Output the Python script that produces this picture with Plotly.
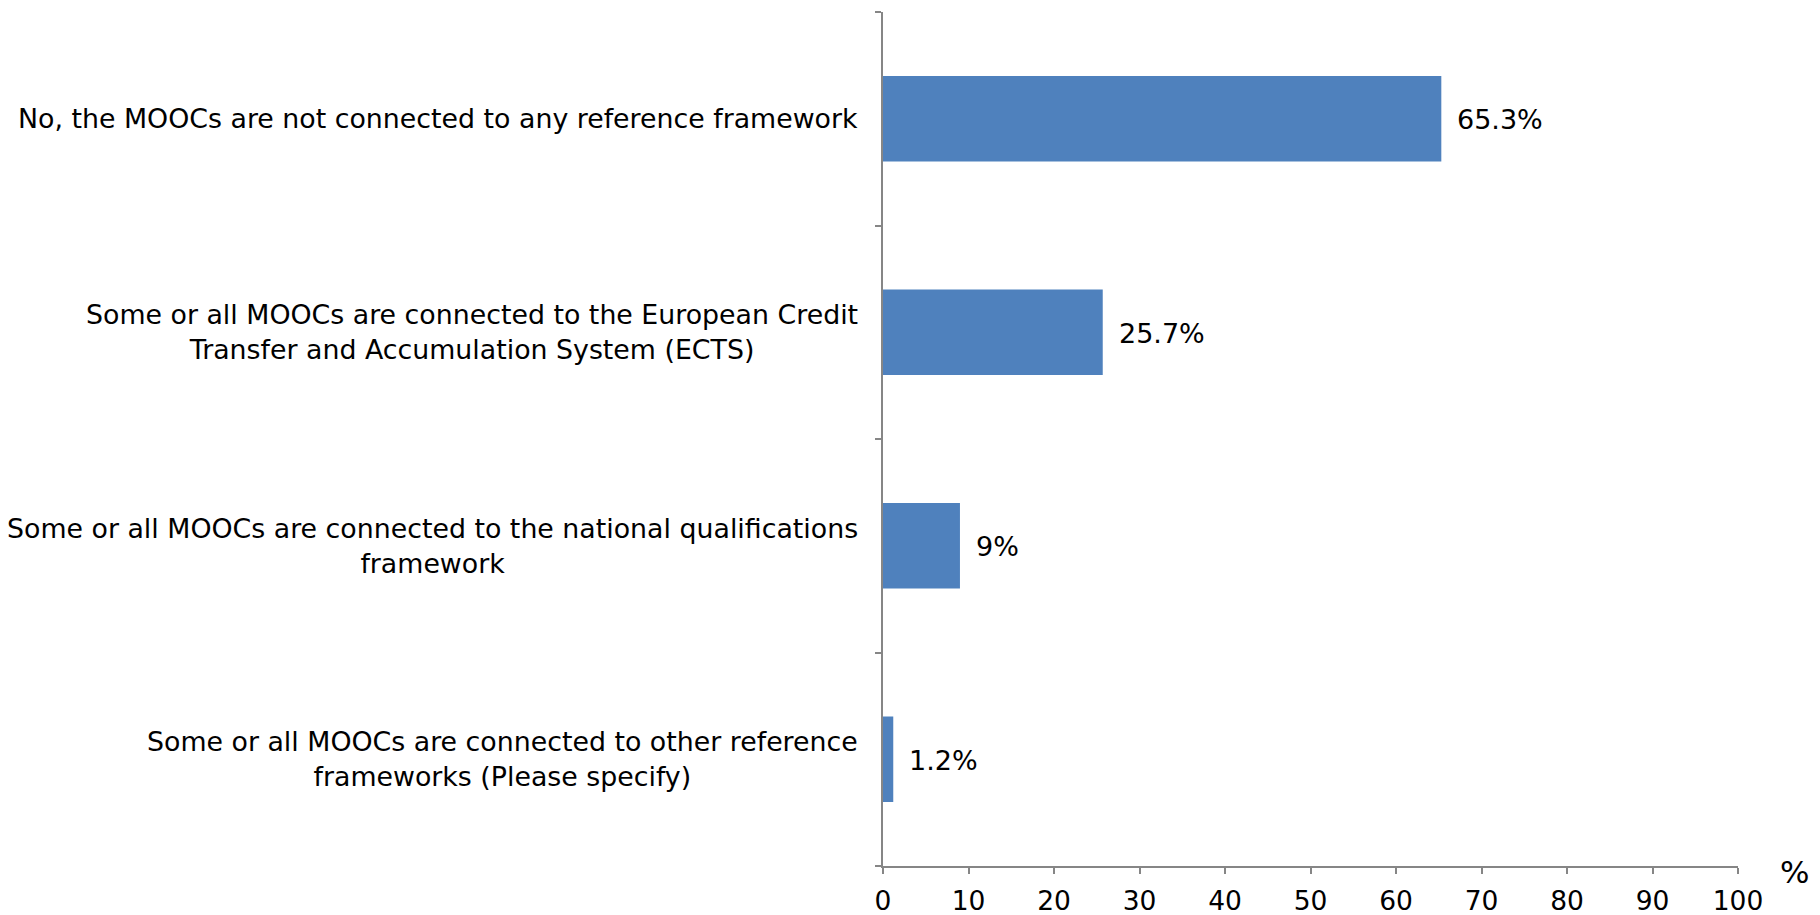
import plotly.graph_objects as go

categories = [
    "No, the MOOCs are not connected to any reference framework",
    "Some or all MOOCs are connected to the European Credit<br>Transfer and Accumulation System (ECTS)",
    "Some or all MOOCs are connected to the national qualifications<br>framework",
    "Some or all MOOCs are connected to other reference<br>frameworks (Please specify)",
]
values = [65.3, 25.7, 9, 1.2]
value_labels = ["65.3%", "25.7%", "9%", "1.2%"]
x_ticks = [0, 10, 20, 30, 40, 50, 60, 70, 80, 90, 100]
axis_unit = "%"

FONT = "DejaVu Sans"
AXIS_COLOR = "#868686"
BAR_COLOR = "#4F81BD"

fig = go.Figure()
fig.add_trace(go.Bar(
    x=values,
    y=categories,
    orientation="h",
    marker=dict(color=BAR_COLOR, line=dict(width=0)),
    width=0.4,
    hoverinfo="x+y",
))

annotations = []
for cat, v, lab in zip(categories, values, value_labels):
    annotations.append(dict(
        x=v, y=cat, xref="x", yref="y", text=lab, showarrow=False,
        xanchor="left", yanchor="middle", xshift=14, yshift=-1,
        font=dict(family=FONT, size=27, color="#000000"),
    ))
    annotations.append(dict(
        x=0, y=cat, xref="paper", yref="y", text=cat, showarrow=False,
        xanchor="right", yanchor="middle", xshift=-23, align="center",
        font=dict(family=FONT, size=26.8, color="#000000"),
    ))
annotations.append(dict(
    x=1, y=0, xref="paper", yref="paper", text=axis_unit, showarrow=False,
    xanchor="left", yanchor="middle", xshift=40, yshift=-6,
    font=dict(family=FONT, size=31, color="#000000"),
))

fig.update_layout(
    width=1820, height=915,
    margin=dict(l=883, r=82, t=12, b=49, autoexpand=False),
    paper_bgcolor="white", plot_bgcolor="white",
    showlegend=False,
    annotations=annotations,
    bargap=0.6,
    xaxis=dict(
        range=[0, 100], tickvals=x_ticks, ticktext=[str(t) for t in x_ticks],
        showgrid=False, zeroline=False, showline=True, linecolor=AXIS_COLOR, linewidth=1.5,
        ticks="outside", ticklen=6, tickcolor=AXIS_COLOR, tickwidth=1.5,
        tickfont=dict(family=FONT, size=26.5, color="#000000"),
        ticklabelstandoff=4, automargin=False, fixedrange=True,
    ),
    yaxis=dict(
        categoryorder="array", categoryarray=categories[::-1],
        range=[-0.5, 3.5],
        showgrid=False, zeroline=False, showline=True, linecolor=AXIS_COLOR, linewidth=1.5,
        ticks="outside", ticklen=6, tickcolor=AXIS_COLOR, tickwidth=1.5,
        tickson="boundaries", showticklabels=False, automargin=False, fixedrange=True,
    ),
)

fig.write_html("out.html", config={"displayModeBar": False},
               post_script="document.body.style.margin='0';")
